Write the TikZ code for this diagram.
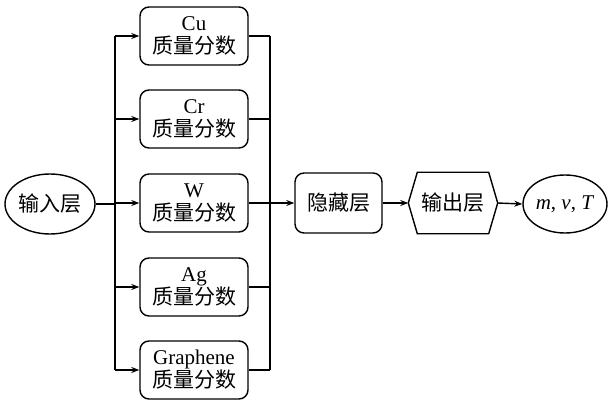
\documentclass[tikz,border=0pt]{standalone}
\usepackage{fontspec}
\setmainfont{Liberation Serif}
\newfontfamily\cjk{Noto Sans CJK SC}
\usetikzlibrary{arrows.meta,shapes.geometric}
\begin{document}
\begin{tikzpicture}[x=1pt,y=-1pt,
  base/.style={draw, line width=1.4pt, font=\fontsize{21}{25}\selectfont, align=center, inner sep=0pt},
  fracbox/.style={base, rounded corners=9pt, minimum width=108pt, minimum height=58pt},
  ellnode/.style={base, ellipse},
  arr/.style={line width=1.4pt, -{Stealth[length=8pt,width=6pt]}},
  ln/.style={line width=1.4pt}]
\useasboundingbox (0,0) rectangle (608,401);
\node[ellnode, minimum width=90pt, minimum height=60pt] (in) at (50,204) {\cjk 输入层};
\node[fracbox] (cu) at (194,36) {Cu\\[-2pt]{\cjk 质量分数}};
\node[fracbox] (cr) at (194,119) {Cr\\[-2pt]{\cjk 质量分数}};
\node[fracbox] (w) at (194,203) {W\\[-2pt]{\cjk 质量分数}};
\node[fracbox] (ag) at (194,287) {Ag\\[-2pt]{\cjk 质量分数}};
\node[fracbox] (gr) at (194,370) {Graphene\\[-2pt]{\cjk 质量分数}};
\node[base, rounded corners=9pt, minimum width=87pt, minimum height=60pt] (hid) at (338.5,203) {\cjk 隐藏层};
\node[base, draw=none, minimum width=88pt, minimum height=60pt] (out) at (453,203) {\cjk 输出层};
\draw[ln, line join=miter] (out.west) -- ([xshift=9pt]out.north west) -- ([xshift=-9pt]out.north east) -- (out.east) -- ([xshift=-9pt]out.south east) -- ([xshift=9pt]out.south west) -- cycle;
\node[ellnode, minimum width=84pt, minimum height=58pt] (res) at (565,204) {\textit{m}, \textit{v}, \textit{T}};
\coordinate (lt) at (115,36);
\coordinate (lb) at (115,370);
\coordinate (rt) at (270,36);
\coordinate (rb) at (270,370);
\draw[ln] (lt) -- (lb);
\draw[ln] (rt) -- (rb);
\draw[ln] (in.east) -- (in.east -| lt);
\foreach \b in {cu,cr,w,ag,gr}{
  \draw[arr] (\b.west -| lt) -- (\b.west);
  \draw[ln] (\b.east) -- (\b.east -| rt);
}
\draw[arr] (hid.west -| rt) -- (hid.west);
\draw[arr] (hid.east) -- (out.west);
\draw[arr] (out.east) -- (res.west);
\end{tikzpicture}
\end{document}
